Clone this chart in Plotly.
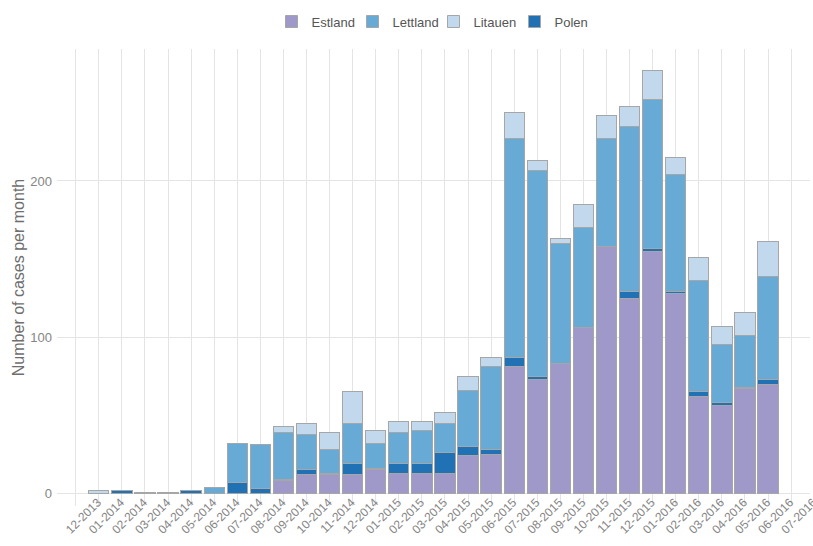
import plotly.graph_objects as go

months = ["12-2013", "01-2014", "02-2014", "03-2014", "04-2014", "05-2014", "06-2014",
          "07-2014", "08-2014", "09-2014", "10-2014", "11-2014", "12-2014",
          "01-2015", "02-2015", "03-2015", "04-2015", "05-2015", "06-2015",
          "07-2015", "08-2015", "09-2015", "10-2015", "11-2015", "12-2015",
          "01-2016", "02-2016", "03-2016", "04-2016", "05-2016", "06-2016", "07-2016"]

# bars exist for 01-2014 .. 06-2016
bar_months = months[1:31]

estland = [0, 0, 0, 0, 0, 0, 0, 0, 8, 12, 12, 12, 15, 13, 13, 13, 24, 25,
           81, 73, 83, 106, 158, 125, 155, 128, 62, 56, 67, 70]
polen = [0, 2, 0.4, 0.4, 2, 0, 7, 3, 1, 3, 1, 7, 1, 6, 6, 13, 6, 3,
         6, 2, 0, 0, 0, 4, 2, 1, 3, 2, 1, 3]
lettland = [0, 0, 0, 0, 0, 4, 25, 28, 30, 23, 15, 26, 16, 20, 21, 19, 36, 53,
            140, 132, 77, 64, 69, 106, 95, 75, 71, 37, 33, 66]
litauen = [2, 0, 0, 0, 0, 0, 0, 0, 4, 7, 11, 20, 8, 7, 6, 7, 9, 6,
           17, 6, 3, 15, 15, 13, 19, 11, 15, 12, 15, 22]

series = [
    ("Estland", estland, "#9e99c8", 1),
    ("Polen", polen, "#2171b5", 4),
    ("Lettland", lettland, "#67aad5", 2),
    ("Litauen", litauen, "#c2d8ec", 3),
]

fig = go.Figure()
for name, vals, color, rank in series:
    fig.add_trace(go.Bar(
        x=bar_months, y=vals, name=name, legendrank=rank,
        width=0.88,
        marker=dict(color=color, line=dict(color="#a6a6a6", width=1)),
    ))

fig.update_layout(
    barmode="stack",
    width=813, height=546,
    margin=dict(l=57, r=3, t=49, b=40, autoexpand=False),
    plot_bgcolor="white", paper_bgcolor="white",
    font=dict(family="Liberation Sans, Arial, sans-serif", size=13, color="#666666"),
    legend=dict(orientation="h", x=0.5, xanchor="center", y=0.988, yanchor="top",
                yref="container", font=dict(size=13, color="#555555"),
                traceorder="normal", itemwidth=30,
                entrywidth=36, entrywidthmode="pixels"),
    showlegend=True,
)

fig.update_xaxes(
    type="category", categoryorder="array", categoryarray=months,
    range=[-0.81, 31.82],
    showgrid=True, gridcolor="#e4e4e4", gridwidth=1,
    tickangle=-45, ticks="", showline=False, zeroline=False,
    tickfont=dict(size=12, color="#858585"),
    ticklabelshift=22, ticklabelstandoff=-14,
    automargin=False,
)
fig.update_yaxes(
    range=[-8.1, 284.5],
    tickvals=[0, 100, 200],
    showgrid=True, gridcolor="#e4e4e4", gridwidth=1,
    zeroline=False, showline=False, ticks="",
    tickfont=dict(size=13, color="#858585"),
    ticklabelstandoff=4,
    title=dict(text="Number of cases per month", font=dict(size=16, color="#6e6e6e"), standoff=1),
    automargin=False,
)

fig.write_html("out.html", config={"displayModeBar": False},
               post_script="document.body.style.margin='0px';")
